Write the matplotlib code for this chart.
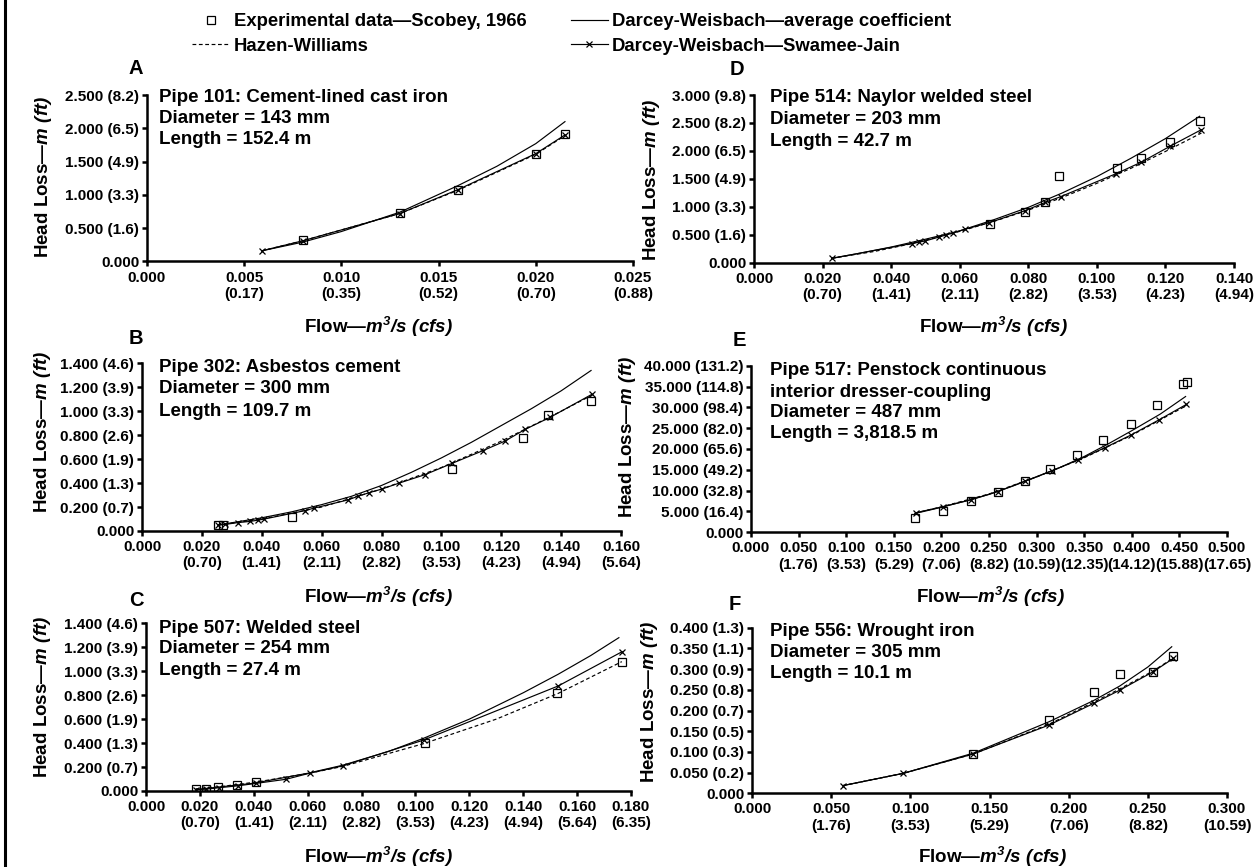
import matplotlib
matplotlib.use('Agg')
import matplotlib.pyplot as plt
from matplotlib.lines import Line2D

plt.rcParams['font.family'] = ['Liberation Sans', 'DejaVu Sans']
plt.rcParams['font.weight'] = 'bold'
plt.rcParams['mathtext.fontset'] = 'custom'
plt.rcParams['mathtext.rm'] = 'Liberation Sans:bold:italic'
plt.rcParams['mathtext.it'] = 'Liberation Sans:bold:italic'
plt.rcParams['mathtext.bf'] = 'Liberation Sans:bold:italic'

# ---------------- data ----------------
legend_labels = ["Experimental data\u2014Scobey, 1966", "Hazen-Williams",
                 "Darcey-Weisbach\u2014average coefficient", "Darcey-Weisbach\u2014Swamee-Jain"]

# Panel A
A_xticks = [0.000, 0.005, 0.010, 0.015, 0.020, 0.025]
A_xcfs = ["0.17", "0.35", "0.52", "0.70", "0.88"]
A_yticks = [0.0, 0.5, 1.0, 1.5, 2.0, 2.5]
A_yft = ["1.6", "3.3", "4.9", "6.5", "8.2"]
A_exp_q = [0.008, 0.013, 0.016, 0.020, 0.0215]
A_exp_h = [0.33, 0.73, 1.08, 1.62, 1.91]
A_sj_q = [0.0059, 0.008, 0.013, 0.016, 0.020, 0.0215]
A_sj_h = [0.16, 0.31, 0.72, 1.08, 1.62, 1.90]
A_avg_q = [0.0059, 0.008, 0.010, 0.013, 0.016, 0.018, 0.020, 0.0215]
A_avg_h = [0.16, 0.29, 0.45, 0.74, 1.14, 1.43, 1.77, 2.10]
A_hw_q = [0.0059, 0.008, 0.013, 0.016, 0.020, 0.0215]
A_hw_h = [0.16, 0.31, 0.72, 1.07, 1.61, 1.89]
A_text = ["Pipe 101: Cement-lined cast iron", "Diameter = 143 mm", "Length = 152.4 m"]

# Panel B
B_xticks = [0.000, 0.020, 0.040, 0.060, 0.080, 0.100, 0.120, 0.140, 0.160]
B_xcfs = ["0.70", "1.41", "2.11", "2.82", "3.53", "4.23", "4.94", "5.64"]
B_yticks = [0.0, 0.2, 0.4, 0.6, 0.8, 1.0, 1.2, 1.4]
B_yft = ["0.7", "1.3", "1.9", "2.6", "3.3", "3.9", "4.6"]
B_exp_q = [0.0254, 0.0271, 0.0502, 0.1036, 0.1274, 0.1357, 0.150]
B_exp_h = [0.053, 0.053, 0.12, 0.52, 0.78, 0.97, 1.085]
B_sj_q = [0.0254, 0.0278, 0.0320, 0.0361, 0.0386, 0.0409, 0.0544, 0.0573, 0.0689, 0.0721,
          0.0759, 0.0801, 0.0859, 0.0945, 0.1036, 0.1138, 0.1212, 0.1281, 0.1364, 0.1502]
B_sj_h = [0.05, 0.055, 0.07, 0.08, 0.09, 0.10, 0.17, 0.19, 0.26, 0.29,
          0.32, 0.35, 0.40, 0.47, 0.565, 0.67, 0.75, 0.85, 0.95, 1.14]
B_avg_q = [0.0254, 0.040, 0.050, 0.060, 0.070, 0.080, 0.090, 0.100, 0.110, 0.120, 0.130, 0.140, 0.150]
B_avg_h = [0.05, 0.11, 0.16, 0.22, 0.29, 0.38, 0.49, 0.61, 0.74, 0.88, 1.02, 1.17, 1.34]
B_hw_q = [0.0254, 0.040, 0.060, 0.080, 0.100, 0.120, 0.140, 0.150]
B_hw_h = [0.05, 0.10, 0.20, 0.35, 0.53, 0.75, 1.00, 1.13]
B_text = ["Pipe 302: Asbestos cement", "Diameter = 300 mm", "Length = 109.7 m"]

# Panel C
C_xticks = [0.000, 0.020, 0.040, 0.060, 0.080, 0.100, 0.120, 0.140, 0.160, 0.180]
C_xcfs = ["0.70", "1.41", "2.11", "2.82", "3.53", "4.23", "4.94", "5.64", "6.35"]
C_yticks = [0.0, 0.2, 0.4, 0.6, 0.8, 1.0, 1.2, 1.4]
C_yft = ["0.7", "1.3", "1.9", "2.6", "3.3", "3.9", "4.6"]
C_exp_q = [0.0184, 0.0222, 0.0268, 0.0337, 0.0408, 0.1034, 0.1525, 0.1766]
C_exp_h = [0.014, 0.014, 0.036, 0.047, 0.078, 0.398, 0.815, 1.08]
C_sj_q = [0.0184, 0.0222, 0.027, 0.034, 0.041, 0.052, 0.061, 0.073, 0.103, 0.153, 0.1767]
C_sj_h = [0.012, 0.015, 0.027, 0.043, 0.064, 0.098, 0.150, 0.210, 0.425, 0.877, 1.163]
C_avg_q = [0.0184, 0.040, 0.060, 0.073, 0.090, 0.103, 0.120, 0.130, 0.140, 0.153, 0.165, 0.1755]
C_avg_h = [0.012, 0.065, 0.148, 0.215, 0.33, 0.44, 0.60, 0.71, 0.82, 0.975, 1.13, 1.28]
C_hw_q = [0.0184, 0.027, 0.041, 0.061, 0.073, 0.103, 0.130, 0.153, 0.1766]
C_hw_h = [0.018, 0.035, 0.075, 0.15, 0.205, 0.395, 0.60, 0.815, 1.08]
C_text = ["Pipe 507: Welded steel", "Diameter = 254 mm", "Length = 27.4 m"]

# Panel D
D_xticks = [0.000, 0.020, 0.040, 0.060, 0.080, 0.100, 0.120, 0.140]
D_xcfs = ["0.70", "1.41", "2.11", "2.82", "3.53", "4.23", "4.94"]
D_yticks = [0.0, 0.5, 1.0, 1.5, 2.0, 2.5, 3.0]
D_yft = ["1.6", "3.3", "4.9", "6.5", "8.2", "9.8"]
D_exp_q = [0.0687, 0.079, 0.0849, 0.0891, 0.106, 0.113, 0.1212, 0.1302]
D_exp_h = [0.685, 0.915, 1.08, 1.553, 1.69, 1.87, 2.156, 2.53]
D_sj_q = [0.0227, 0.046, 0.048, 0.050, 0.054, 0.056, 0.058, 0.0616, 0.0686, 0.079,
          0.085, 0.0894, 0.1057, 0.1130, 0.1214, 0.1305]
D_sj_h = [0.077, 0.343, 0.366, 0.39, 0.46, 0.496, 0.53, 0.60, 0.715, 0.93,
          1.08, 1.18, 1.595, 1.80, 2.085, 2.38]
D_avg_q = [0.0227, 0.030, 0.040, 0.050, 0.060, 0.070, 0.080, 0.090, 0.100, 0.110, 0.120, 0.130]
D_avg_h = [0.08, 0.16, 0.28, 0.42, 0.57, 0.77, 0.99, 1.25, 1.54, 1.87, 2.22, 2.62]
D_hw_q = [0.0227, 0.035, 0.046, 0.060, 0.070, 0.080, 0.090, 0.100, 0.110, 0.120, 0.1305]
D_hw_h = [0.08, 0.20, 0.34, 0.56, 0.74, 0.94, 1.17, 1.42, 1.69, 1.99, 2.32]
D_text = ["Pipe 514: Naylor welded steel", "Diameter = 203 mm", "Length = 42.7 m"]

# Panel E
E_xticks = [0.000, 0.050, 0.100, 0.150, 0.200, 0.250, 0.300, 0.350, 0.400, 0.450, 0.500]
E_xcfs = ["1.76", "3.53", "5.29", "7.06", "8.82", "10.59", "12.35", "14.12", "15.88", "17.65"]
E_yticks = [0.0, 5.0, 10.0, 15.0, 20.0, 25.0, 30.0, 35.0, 40.0]
E_yft = ["16.4", "32.8", "49.2", "65.6", "82.0", "98.4", "114.8", "131.2"]
E_exp_q = [0.172, 0.2015, 0.2306, 0.259, 0.288, 0.314, 0.342, 0.370, 0.399, 0.4265, 0.454, 0.458]
E_exp_h = [3.44, 5.12, 7.52, 9.6, 12.3, 15.2, 18.5, 22.2, 25.9, 30.6, 35.7, 36.2]
E_sj_q = [0.1736, 0.2015, 0.2306, 0.259, 0.288, 0.3163, 0.344, 0.3716, 0.3995, 0.4286, 0.4573]
E_sj_h = [4.72, 6.16, 7.76, 9.76, 12.3, 14.8, 17.4, 20.3, 23.4, 27.0, 30.7]
E_avg_q = [0.172, 0.200, 0.225, 0.250, 0.275, 0.300, 0.325, 0.350, 0.375, 0.400, 0.430, 0.4565]
E_avg_h = [4.5, 6.0, 7.5, 9.1, 11.1, 13.3, 15.6, 18.2, 21.2, 24.4, 28.4, 32.6]
E_hw_q = [0.172, 0.200, 0.250, 0.300, 0.350, 0.400, 0.4573]
E_hw_h = [4.6, 6.1, 9.2, 13.3, 17.9, 23.3, 30.4]
E_text = ["Pipe 517: Penstock continuous", "interior dresser-coupling",
          "Diameter = 487 mm", "Length = 3,818.5 m"]

# Panel F
F_xticks = [0.000, 0.050, 0.100, 0.150, 0.200, 0.250, 0.300]
F_xcfs = ["1.76", "3.53", "5.29", "7.06", "8.82", "10.59"]
F_yticks = [0.0, 0.05, 0.10, 0.15, 0.20, 0.25, 0.30, 0.35, 0.40]
F_yft = ["0.2", "0.3", "0.5", "0.7", "0.8", "0.9", "1.1", "1.3"]
F_exp_q = [0.1398, 0.1877, 0.2157, 0.2322, 0.2531, 0.2662]
F_exp_h = [0.095, 0.177, 0.245, 0.287, 0.293, 0.331]
F_sj_q = [0.0573, 0.0953, 0.1398, 0.1877, 0.2157, 0.2322, 0.2531, 0.2662]
F_sj_h = [0.0185, 0.048, 0.095, 0.165, 0.217, 0.249, 0.293, 0.326]
F_avg_q = [0.0573, 0.0953, 0.1398, 0.1877, 0.2157, 0.2322, 0.2500, 0.2651]
F_avg_h = [0.0185, 0.048, 0.097, 0.173, 0.224, 0.259, 0.305, 0.354]
F_hw_q = [0.0573, 0.0953, 0.1398, 0.1877, 0.2157, 0.2322, 0.2531, 0.2662]
F_hw_h = [0.0185, 0.048, 0.095, 0.167, 0.220, 0.252, 0.295, 0.327]
F_text = ["Pipe 556: Wrought iron", "Diameter = 305 mm", "Length = 10.1 m"]

XLABEL = "Flow\u2014" + r"$m^3/s\ (cfs)$"
YLABEL = "Head Loss\u2014" + r"$m\ (ft)$"

# ---------------- layout (pixels) ----------------
W, H = 1256, 867
fig = plt.figure(figsize=(W / 100, H / 100), dpi=100)


def fx(x):
    return x / W


def fy(y):
    return 1 - y / H


panels = [
    dict(letter="A", box=(147, 633, 95, 261.5), xt=A_xticks, xc=A_xcfs, yt=A_yticks, yf=A_yft,
         exp=(A_exp_q, A_exp_h), sj=(A_sj_q, A_sj_h), avg=(A_avg_q, A_avg_h), hw=(A_hw_q, A_hw_h),
         text=A_text, tx=159, ty=[95, 116.5, 137.5], lpos=(135.5, 69),
         xl=(378, 327), yl=(44, 177)),
    dict(letter="B", box=(142, 621, 363.3, 531), xt=B_xticks, xc=B_xcfs, yt=B_yticks, yf=B_yft,
         exp=(B_exp_q, B_exp_h), sj=(B_sj_q, B_sj_h), avg=(B_avg_q, B_avg_h), hw=(B_hw_q, B_hw_h),
         text=B_text, tx=159, ty=[365, 386.7, 409.3], lpos=(136, 339),
         xl=(378, 597), yl=(43, 432)),
    dict(letter="C", box=(146, 631, 623.3, 791), xt=C_xticks, xc=C_xcfs, yt=C_yticks, yf=C_yft,
         exp=(C_exp_q, C_exp_h), sj=(C_sj_q, C_sj_h), avg=(C_avg_q, C_avg_h), hw=(C_hw_q, C_hw_h),
         text=C_text, tx=159, ty=[626, 646.7, 668.3], lpos=(136, 600),
         xl=(378, 857), yl=(43, 697)),
    dict(letter="D", box=(754, 1234, 95, 262.7), xt=D_xticks, xc=D_xcfs, yt=D_yticks, yf=D_yft,
         exp=(D_exp_q, D_exp_h), sj=(D_sj_q, D_sj_h), avg=(D_avg_q, D_avg_h), hw=(D_hw_q, D_hw_h),
         text=D_text, tx=770, ty=[95, 117.3, 139.3], lpos=(737, 69.5),
         xl=(993, 327), yl=(652, 180)),
    dict(letter="E", box=(751, 1227, 365.7, 532.3), xt=E_xticks, xc=E_xcfs, yt=E_yticks, yf=E_yft,
         exp=(E_exp_q, E_exp_h), sj=(E_sj_q, E_sj_h), avg=(E_avg_q, E_avg_h), hw=(E_hw_q, E_hw_h),
         text=E_text, tx=770, ty=[368.3, 390, 410.7, 431.7], lpos=(739, 341),
         xl=(990, 597), yl=(628, 437)),
    dict(letter="F", box=(752, 1227, 627.7, 793.3), xt=F_xticks, xc=F_xcfs, yt=F_yticks, yf=F_yft,
         exp=(F_exp_q, F_exp_h), sj=(F_sj_q, F_sj_h), avg=(F_avg_q, F_avg_h), hw=(F_hw_q, F_hw_h),
         text=F_text, tx=770, ty=[629.3, 650, 671.7], lpos=(735, 605),
         xl=(992, 857), yl=(649, 702)),
]

LW = 0.85
TXT = 13.5
EM = TXT * 100 / 72.0

for p in panels:
    l, r, t, b = p["box"]
    ax = fig.add_axes([fx(l), fy(b), (r - l) / W, (b - t) / H])
    ax.plot(p["hw"][0], p["hw"][1], color="k", lw=LW, dashes=(3.2, 2.2), zorder=2)
    ax.plot(p["avg"][0], p["avg"][1], color="k", lw=LW, zorder=2)
    ax.plot(p["sj"][0], p["sj"][1], color="k", lw=LW, marker="x", ms=5, mew=0.9, zorder=3)
    ax.plot(p["exp"][0], p["exp"][1], ls="none", marker="s", ms=5.5, mfc="none",
            mec="k", mew=0.9, zorder=4)
    ax.set_xlim(p["xt"][0], p["xt"][-1])
    ax.set_ylim(p["yt"][0], p["yt"][-1])
    ax.set_xticks(p["xt"])
    ax.set_xticklabels(["%.3f" % p["xt"][0]] +
                       ["%.3f\n(%s)" % (v, c) for v, c in zip(p["xt"][1:], p["xc"])])
    ax.set_yticks(p["yt"])
    ax.set_yticklabels(["%.3f" % p["yt"][0]] +
                       ["%.3f (%s)" % (v, c) for v, c in zip(p["yt"][1:], p["yf"])])
    for s in ("top", "right"):
        ax.spines[s].set_visible(False)
    for s in ("left", "bottom"):
        ax.spines[s].set_linewidth(1.8)
    ax.tick_params(direction="out", length=3.6, width=1.8, labelsize=11)
    ax.tick_params(axis="x", pad=3.0)
    ax.tick_params(axis="y", pad=2)
    for lab in ax.get_xticklabels() + ax.get_yticklabels():
        lab.set_fontweight("bold")
    ax.patch.set_visible(False)
    for line, yc in zip(p["text"], p["ty"]):
        fig.text(fx(p["tx"]), fy(yc + 0.36 * EM), line, fontsize=TXT, fontweight="bold",
                 ha="left", va="baseline")
    fig.text(fx(p["lpos"][0]), fy(p["lpos"][1]), p["letter"], fontsize=14.5,
             fontweight="bold", ha="center", va="center")
    fig.text(fx(p["xl"][0]), fy(p["xl"][1]), XLABEL, fontsize=TXT, fontweight="bold",
             ha="center", va="center")
    fig.text(fx(p["yl"][0]), fy(p["yl"][1]), YLABEL, fontsize=TXT, fontweight="bold",
             ha="center", va="center", rotation=90)

# legend
h_exp = Line2D([], [], ls="none", marker="s", ms=5.5, mfc="none", mec="k", mew=0.9)
h_hw = Line2D([], [], color="k", lw=LW, dashes=(3.2, 2.2))
h_avg = Line2D([], [], color="k", lw=LW)
h_sj = Line2D([], [], color="k", lw=LW, marker="x", ms=5, mew=0.9)
fig.legend([h_exp, h_hw, h_avg, h_sj], legend_labels, loc="upper left",
           bbox_to_anchor=(fx(192), fy(13)), ncol=2, frameon=False, borderpad=0,
           borderaxespad=0, handlelength=2.05, handletextpad=0.2, columnspacing=2.4,
           labelspacing=0.42, numpoints=1, prop=dict(size=13.3, weight="bold"))

# left border
fig.add_artist(Line2D([fx(5), fx(5)], [0, 1], transform=fig.transFigure, color="k", lw=2.2))

fig.savefig("out.png", dpi=100)
